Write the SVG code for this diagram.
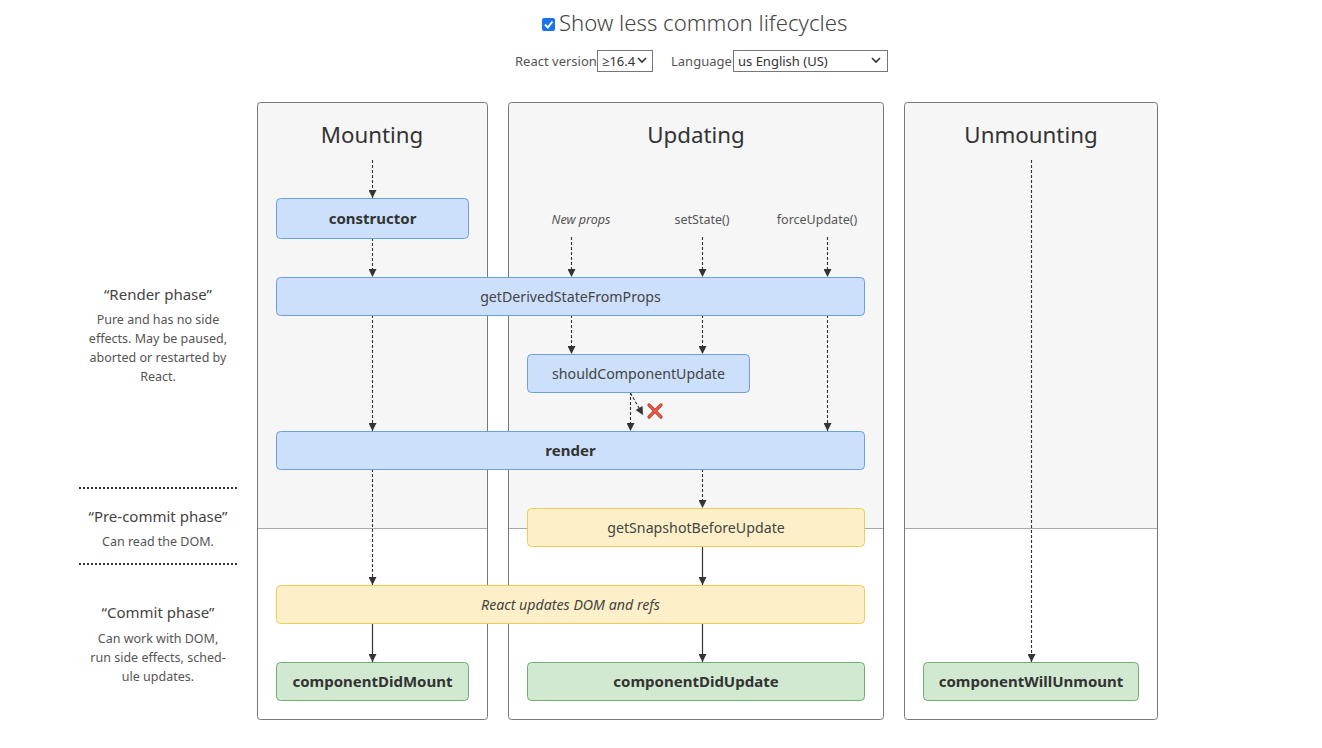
<svg xmlns="http://www.w3.org/2000/svg" width="1322" height="748" viewBox="0 0 1322 748">
  <style>
    text { font-family: "Noto Sans", "Open Sans", "DejaVu Sans", sans-serif; fill: #333; }
    .title { font-size: 22.2px; font-weight: 300; fill: #444; }
    .ctl { font-size: 13px; fill: #555; }
    .head { font-size: 22.3px; text-anchor: middle; fill: #333; }
    .phase { font-size: 15px; text-anchor: middle; fill: #444; }
    .desc { font-size: 12.5px; text-anchor: middle; fill: #555; }
    .trig { font-size: 12.5px; text-anchor: middle; fill: #555; }
    .lbl { font-size: 14.2px; text-anchor: middle; fill: #444; }
    .bold { font-size: 15px; font-weight: bold; fill: #333; }
    .sec-bg { fill: #f6f6f6; }
    .sec-frame { fill: none; stroke: #777; stroke-width: 1; }
    .sec-split { stroke: #aaa; stroke-width: 1; }
    .blue { fill: #cce0fb; stroke: #6aa0e0; stroke-width: 1; }
    .yellow { fill: #fdf0c8; stroke: #f0cc5a; stroke-width: 1; }
    .green { fill: #d1e9d1; stroke: #6fae6f; stroke-width: 1; }
    .dash { stroke: #333; stroke-width: 1.1; stroke-dasharray: 3 2; fill: none; marker-end: url(#arrow); }
    .solid { stroke: #333; stroke-width: 1.2; fill: none; marker-end: url(#arrow); }
    .dots { stroke: #333; stroke-width: 2; stroke-dasharray: 2 2; }
  </style>
  <defs>
    <marker id="arrow" viewBox="0 0 10 10" refX="10" refY="5" markerWidth="9" markerHeight="8" markerUnits="userSpaceOnUse" orient="auto">
      <path d="M0,0 L10,5 L0,10 z" fill="#333"/>
    </marker>
  </defs>

  <rect width="1322" height="748" fill="#fff"/>

  <!-- header controls -->
  <g id="controls">
    <rect x="542" y="18" width="13" height="13" rx="2" fill="#1a73e8"/>
    <path d="M545,24.5 L547.8,27.5 L552.5,21.5" fill="none" stroke="#fff" stroke-width="2"/>
    <text class="title" x="559" y="31">Show less common lifecycles</text>
    <text class="ctl" x="515" y="66">React version</text>
    <rect x="597.5" y="50.5" width="55" height="21" fill="#fff" stroke="#767676"/>
    <text class="ctl" x="602" y="66" style="fill:#333">≥16.4</text>
    <path d="M638,58 L642,62 L646,58" fill="none" stroke="#333" stroke-width="1.6"/>
    <text class="ctl" x="671" y="66">Language</text>
    <rect x="733.5" y="50.5" width="154" height="21" fill="#fff" stroke="#767676"/>
    <text class="ctl" x="738" y="66" style="fill:#333">us English (US)</text>
    <path d="M872,58 L876,62 L880,58" fill="none" stroke="#333" stroke-width="1.6"/>
  </g>

  <!-- phase descriptions -->
  <g id="phases">
    <text class="phase" x="158" y="300">“Render phase”</text>
    <text class="desc" x="158" y="324">Pure and has no side</text>
    <text class="desc" x="158" y="343">effects. May be paused,</text>
    <text class="desc" x="158" y="362">aborted or restarted by</text>
    <text class="desc" x="158" y="381">React.</text>
    <line class="dots" x1="79" y1="488" x2="237" y2="488"/>
    <text class="phase" x="158" y="522">“Pre-commit phase”</text>
    <text class="desc" x="158" y="546">Can read the DOM.</text>
    <line class="dots" x1="79" y1="564" x2="237" y2="564"/>
    <text class="phase" x="158" y="618">“Commit phase”</text>
    <text class="desc" x="158" y="643">Can work with DOM,</text>
    <text class="desc" x="158" y="662">run side effects, sched-</text>
    <text class="desc" x="158" y="681">ule updates.</text>
  </g>

  <!-- section columns -->
  <g id="mounting">
    <rect class="sec-bg" x="257.5" y="102.5" width="230" height="425.5"/>
    <line class="sec-split" x1="257.5" y1="528.5" x2="487.5" y2="528.5"/>
    <rect class="sec-frame" x="257.5" y="102.5" width="230" height="617" rx="3"/>
    <text class="head" x="372" y="143">Mounting</text>
  </g>
  <g id="updating">
    <rect class="sec-bg" x="508.5" y="102.5" width="375" height="425.5"/>
    <line class="sec-split" x1="508.5" y1="528.5" x2="883.5" y2="528.5"/>
    <rect class="sec-frame" x="508.5" y="102.5" width="375" height="617" rx="3"/>
    <text class="head" x="696" y="143">Updating</text>
  </g>
  <g id="unmounting">
    <rect class="sec-bg" x="904.5" y="102.5" width="253" height="425.5"/>
    <line class="sec-split" x1="904.5" y1="528.5" x2="1157.5" y2="528.5"/>
    <rect class="sec-frame" x="904.5" y="102.5" width="253" height="617" rx="3"/>
    <text class="head" x="1031" y="143">Unmounting</text>
  </g>

  <!-- update triggers -->
  <g id="triggers">
    <text class="trig" x="581" y="224" style="font-style:italic">New props</text>
    <text class="trig" x="702" y="224">setState()</text>
    <text class="trig" x="817" y="224">forceUpdate()</text>
  </g>

  <!-- connectors -->
  <g id="connectors">
    <line class="dash" x1="372.5" y1="160" x2="372.5" y2="198"/>
    <line class="dash" x1="372.5" y1="238" x2="372.5" y2="277"/>
    <line class="dash" x1="372.5" y1="315" x2="372.5" y2="431"/>
    <line class="dash" x1="372.5" y1="469" x2="372.5" y2="585"/>
    <line class="solid" x1="372.5" y1="623" x2="372.5" y2="662"/>

    <line class="dash" x1="571.5" y1="237" x2="571.5" y2="277"/>
    <line class="dash" x1="702.5" y1="237" x2="702.5" y2="277"/>
    <line class="dash" x1="827.5" y1="237" x2="827.5" y2="277"/>
    <line class="dash" x1="571.5" y1="315" x2="571.5" y2="354"/>
    <line class="dash" x1="702.5" y1="315" x2="702.5" y2="354"/>
    <line class="dash" x1="827.5" y1="315" x2="827.5" y2="431"/>
    <line class="dash" x1="630.5" y1="392" x2="630.5" y2="431"/>
    <line class="dash" x1="630.5" y1="393" x2="643" y2="415"/>
    <line class="dash" x1="702.5" y1="469" x2="702.5" y2="508"/>
    <line class="solid" x1="702.5" y1="546" x2="702.5" y2="585"/>
    <line class="solid" x1="702.5" y1="623" x2="702.5" y2="662"/>

    <line class="dash" x1="1031.5" y1="160" x2="1031.5" y2="662"/>

    <!-- blocked path mark -->
    <path d="M649,405 L661,417 M661,405 L649,417" stroke="#c0392b" stroke-width="3.2" stroke-linecap="round"/>
    <path d="M649,405 L661,417 M661,405 L649,417" stroke="#e8604c" stroke-width="1.6" stroke-linecap="round"/>
  </g>

  <!-- lifecycle nodes -->
  <g id="constructor">
    <rect class="blue" x="276.5" y="198.5" width="192" height="40" rx="4"/>
    <text class="lbl bold" x="372.5" y="224">constructor</text>
  </g>
  <g id="getDerivedStateFromProps">
    <rect class="blue" x="276.5" y="277.5" width="588" height="38" rx="4"/>
    <text class="lbl" x="570.5" y="302">getDerivedStateFromProps</text>
  </g>
  <g id="shouldComponentUpdate">
    <rect class="blue" x="527.5" y="354.5" width="222" height="38" rx="4"/>
    <text class="lbl" x="638.5" y="379">shouldComponentUpdate</text>
  </g>
  <g id="render">
    <rect class="blue" x="276.5" y="431.5" width="588" height="38" rx="4"/>
    <text class="lbl bold" x="570.5" y="456">render</text>
  </g>
  <g id="getSnapshotBeforeUpdate">
    <rect class="yellow" x="527.5" y="508.5" width="337" height="38" rx="4"/>
    <text class="lbl" x="696" y="533">getSnapshotBeforeUpdate</text>
  </g>
  <g id="reactUpdatesDom">
    <rect class="yellow" x="276.5" y="585.5" width="588" height="38" rx="4"/>
    <text class="lbl" x="570.5" y="610" style="font-style:italic">React updates DOM and refs</text>
  </g>
  <g id="componentDidMount">
    <rect class="green" x="276.5" y="662.5" width="192" height="38" rx="4"/>
    <text class="lbl bold" x="372.5" y="687">componentDidMount</text>
  </g>
  <g id="componentDidUpdate">
    <rect class="green" x="527.5" y="662.5" width="337" height="38" rx="4"/>
    <text class="lbl bold" x="696" y="687">componentDidUpdate</text>
  </g>
  <g id="componentWillUnmount">
    <rect class="green" x="923.5" y="662.5" width="215" height="38" rx="4"/>
    <text class="lbl bold" x="1031" y="687">componentWillUnmount</text>
  </g>
</svg>
